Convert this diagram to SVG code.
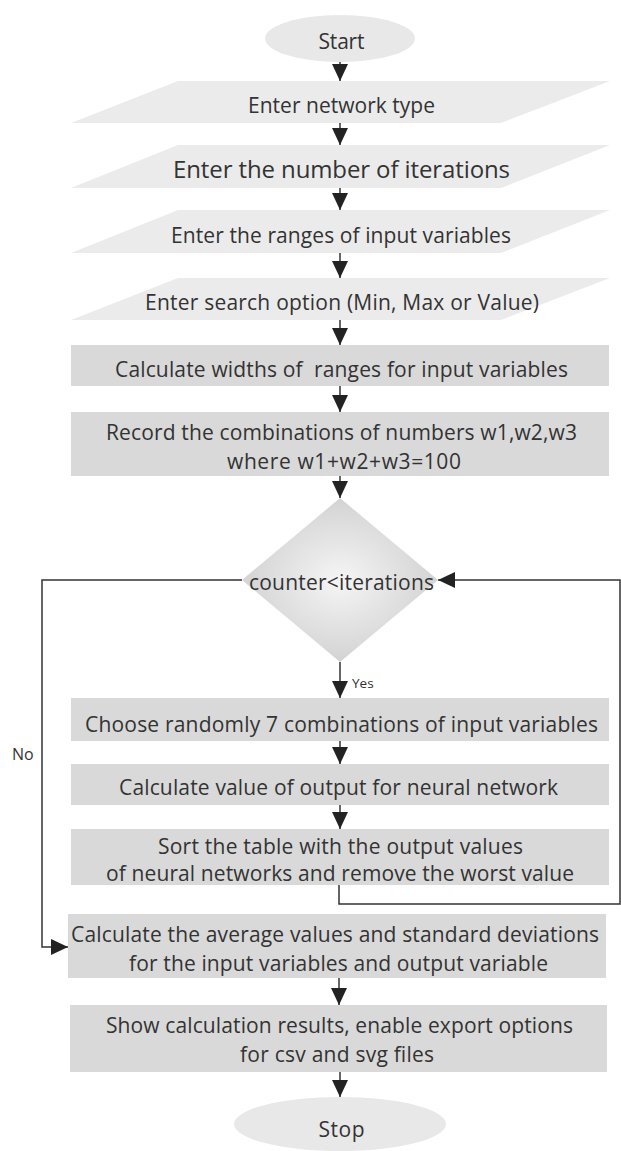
<svg xmlns="http://www.w3.org/2000/svg" width="621" height="1151" viewBox="0 0 621 1151">
<style>
.t{font-family:"Open Sans","Noto Sans","Liberation Sans",sans-serif;font-size:21px;fill:#333;text-anchor:middle}
.big{font-size:24px}
.lbl{font-family:"Open Sans","Noto Sans","Liberation Sans",sans-serif;fill:#333}
.io{fill:#ebebeb}
.pr{fill:#d9d9d9}
.term{fill:#e8e8e8}
.c{fill:none;stroke:#333;stroke-width:1.5}
.a{marker-end:url(#ah)}
</style>
<defs>
<marker id="ah" viewBox="0 0 17 16" markerWidth="17" markerHeight="16" refX="17" refY="8" orient="auto" markerUnits="userSpaceOnUse">
<path d="M0,0 L17,8 L0,16 Z" fill="#222"/>
</marker>
<radialGradient id="dg" cx="0.5" cy="0.5" r="0.5">
<stop offset="0" stop-color="#f5f5f5"/>
<stop offset="1" stop-color="#d3d3d3"/>
</radialGradient>
</defs>
<rect width="621" height="1151" fill="#fff"/>

<g id="connectors">
<path class="c a" d="M340,62 V81"/>
<path class="c a" d="M340,123 V145"/>
<path class="c a" d="M340,188 V210"/>
<path class="c a" d="M340,253 V278"/>
<path class="c a" d="M340,320 V345"/>
<path class="c a" d="M340,386 V412"/>
<path class="c a" d="M340,476 V498"/>
<path class="c a" d="M340,662 V698"/>
<path class="c a" d="M340,741 V764"/>
<path class="c a" d="M340,805 V829"/>
<path class="c a" d="M339,978 V1005"/>
<path class="c a" d="M340,1072 V1097"/>
<path class="c a" d="M242,580 H42 V947 H68"/>
<path class="c a" d="M339,885 V904 H620 V580 H438"/>
<text class="lbl" x="352" y="688" font-size="13.5">Yes</text>
<text class="lbl" x="12" y="760" font-size="16">No</text>
</g>

<g id="start">
<ellipse class="term" cx="340" cy="38.5" rx="75" ry="23.5"/>
<text class="t" x="341.5" y="49" textLength="46">Start</text>
</g>
<g id="network-type">
<polygon class="io" points="178,81 610,81 501,123 71,123"/>
<text class="t" x="341.5" y="113" textLength="187">Enter network type</text>
</g>
<g id="iterations">
<polygon class="io" points="178,145 610,145 501,188 71,188"/>
<text class="t big" x="341.5" y="178" textLength="337">Enter the number of iterations</text>
</g>
<g id="ranges">
<polygon class="io" points="178,210 610,210 501,253 71,253"/>
<text class="t" x="341" y="243" textLength="340">Enter the ranges of input variables</text>
</g>
<g id="search-option">
<polygon class="io" points="178,278 610,278 501,320 71,320"/>
<text class="t" x="342" y="310" textLength="394">Enter search option (Min, Max or Value)</text>
</g>
<g id="widths">
<rect class="pr" x="71" y="345" width="538" height="41"/>
<text class="t" x="341.5" y="377" textLength="453" style="white-space:pre">Calculate widths of  ranges for input variables</text>
</g>
<g id="record">
<rect class="pr" x="71" y="412" width="538" height="64"/>
<text class="t" x="341.5" y="440" textLength="471">Record the combinations of numbers w1,w2,w3</text>
<text class="t" x="344" y="469" textLength="234">where w1+w2+w3=100</text>
</g>
<g id="decision">
<polygon points="340,498 438,580 340,662 242,580" fill="url(#dg)"/>
<text class="t" x="341.5" y="590" textLength="185">counter&lt;iterations</text>
</g>
<g id="choose">
<rect class="pr" x="71" y="698" width="538" height="43"/>
<text class="t" x="341.5" y="732" textLength="513">Choose randomly 7 combinations of input variables</text>
</g>
<g id="calc-output">
<rect class="pr" x="71" y="764" width="538" height="41"/>
<text class="t" x="338.5" y="795" textLength="439">Calculate value of output for neural network</text>
</g>
<g id="sort">
<rect class="pr" x="71" y="829" width="538" height="56"/>
<text class="t" x="340.5" y="854" textLength="365">Sort the table with the output values</text>
<text class="t" x="340" y="881" textLength="468">of neural networks and remove the worst value</text>
</g>
<g id="average">
<rect class="pr" x="68" y="914" width="538" height="64"/>
<text class="t" x="335" y="942" textLength="528">Calculate the average values and standard deviations</text>
<text class="t" x="338.5" y="971" textLength="419">for the input variables and output variable</text>
</g>
<g id="show">
<rect class="pr" x="70" y="1005" width="537" height="67"/>
<text class="t" x="339.5" y="1033" textLength="467">Show calculation results, enable export options</text>
<text class="t" x="337" y="1062" textLength="194">for csv and svg files</text>
</g>
<g id="stop">
<ellipse class="term" cx="340" cy="1124" rx="106" ry="27"/>
<text class="t" x="341.5" y="1137" textLength="46">Stop</text>
</g>
</svg>
